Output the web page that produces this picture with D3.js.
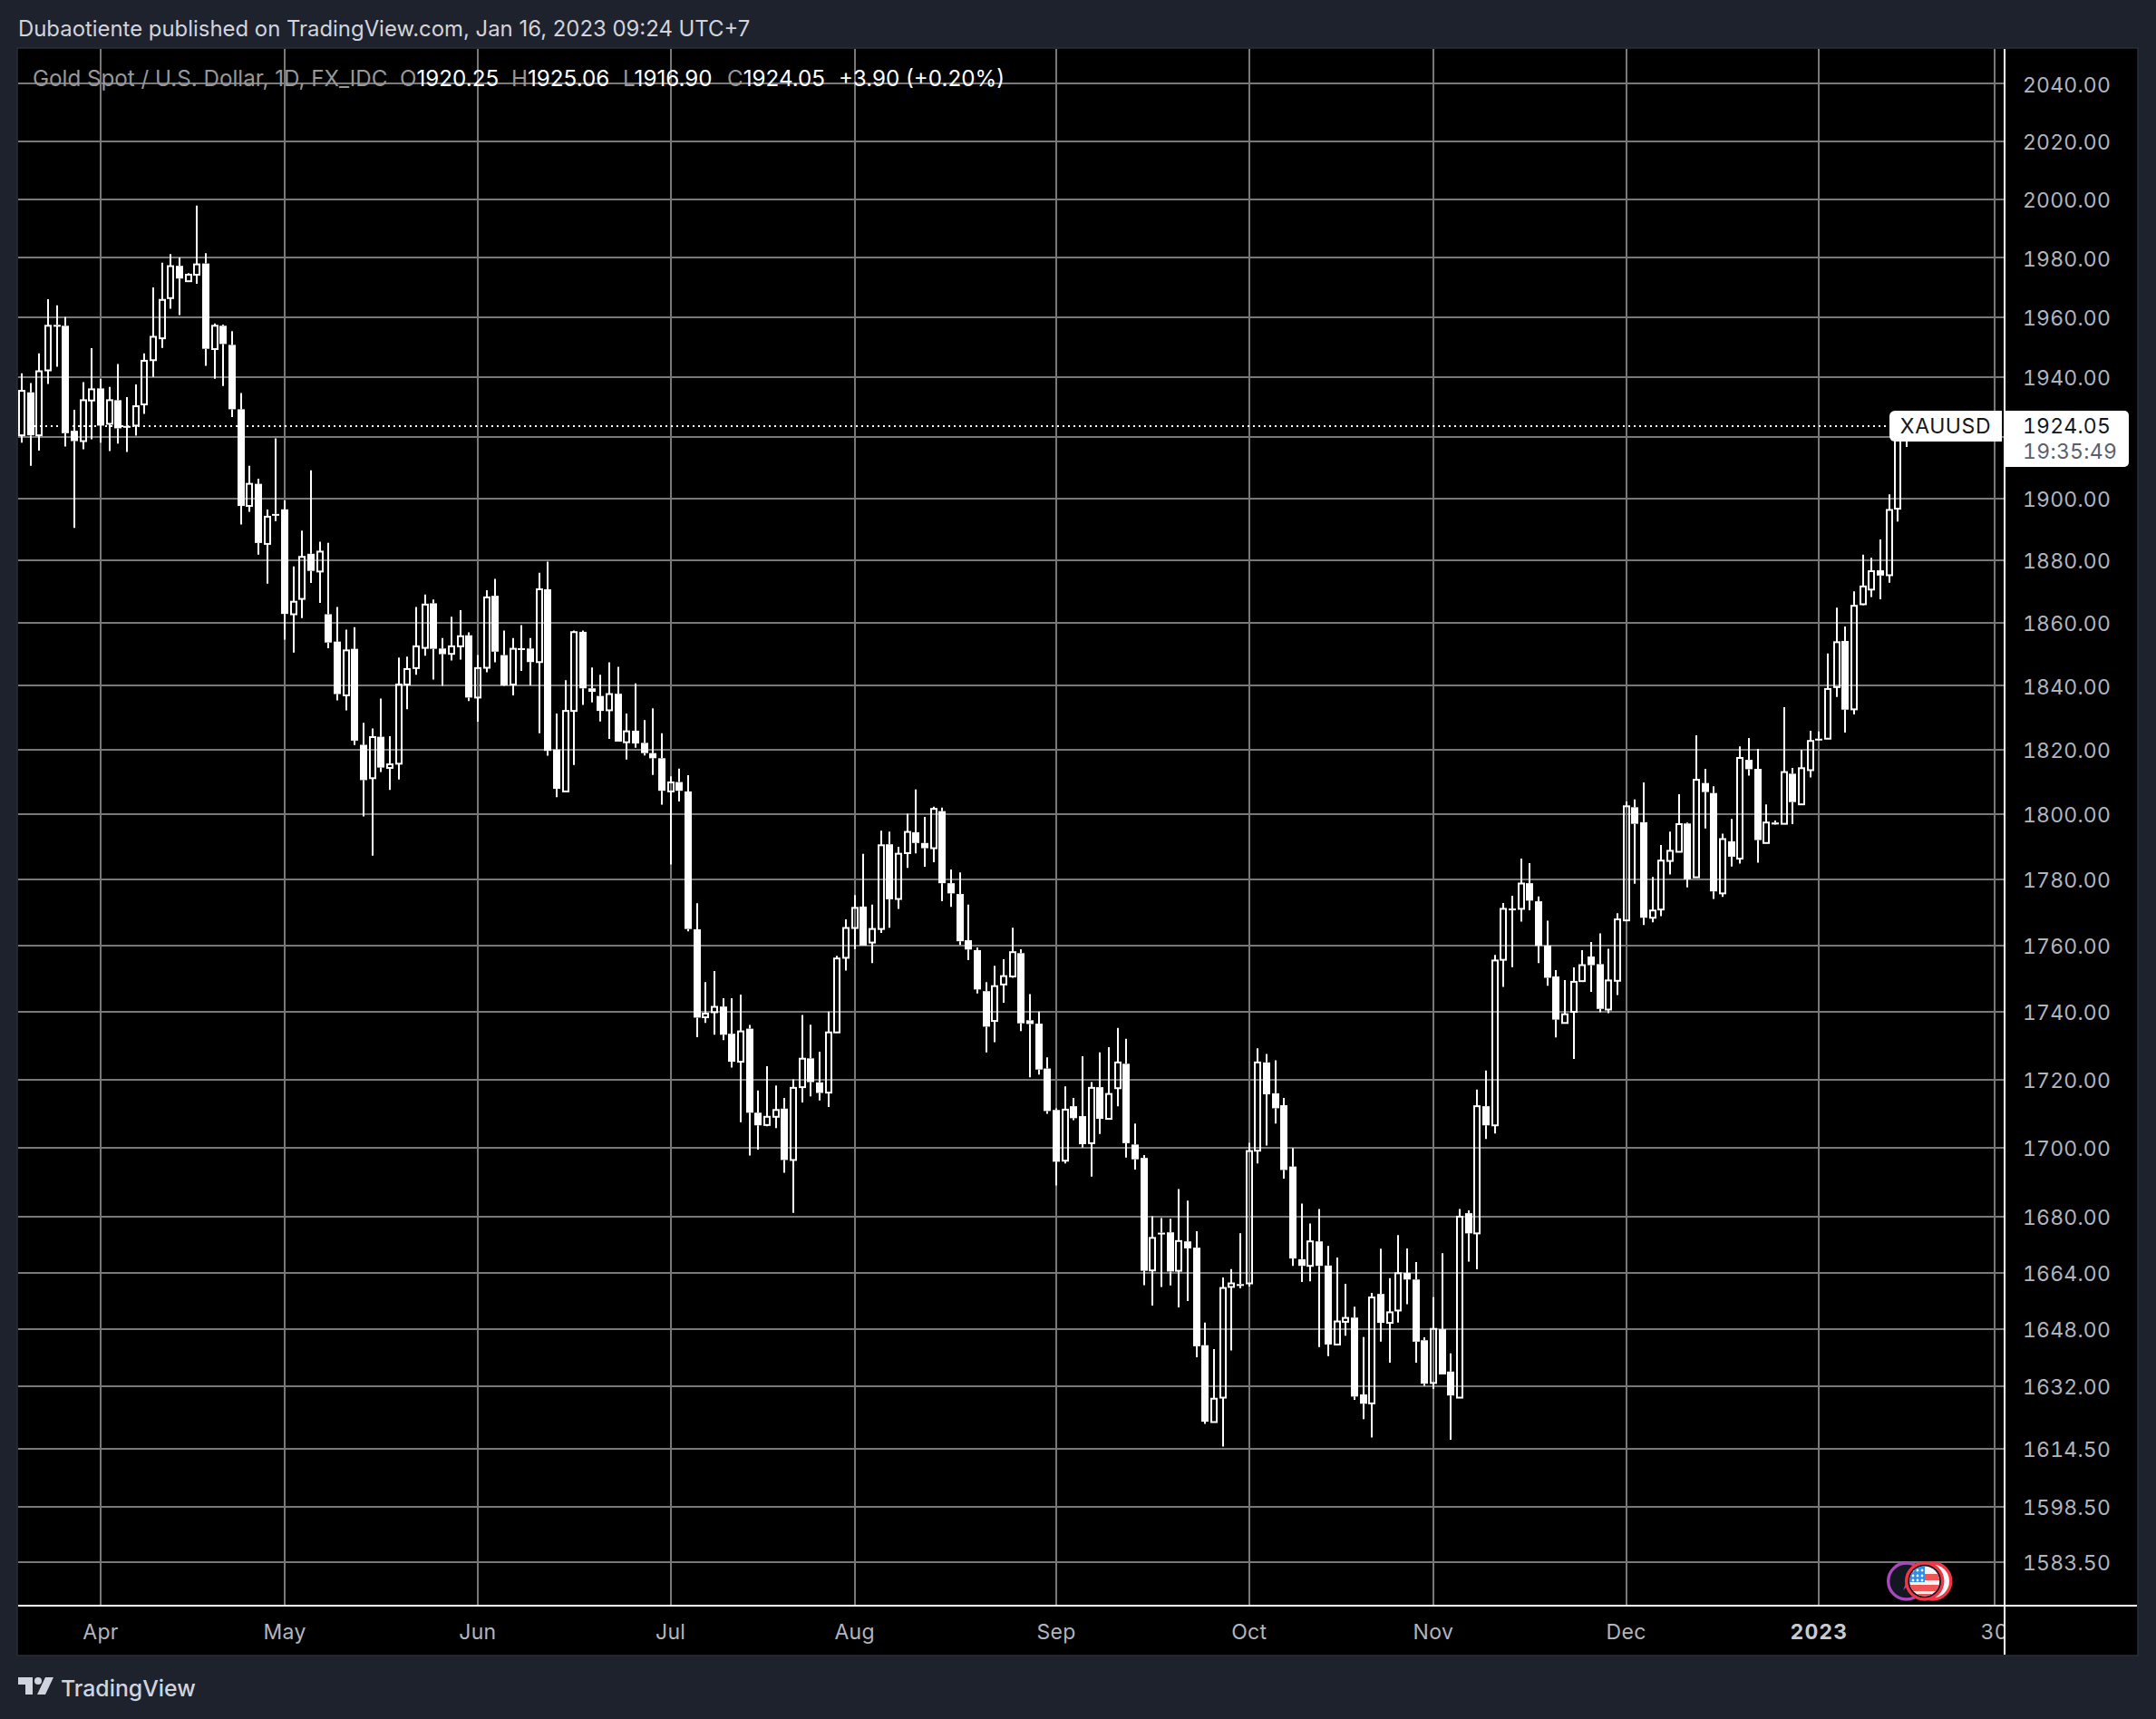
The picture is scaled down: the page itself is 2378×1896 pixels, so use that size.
<!DOCTYPE html>
<html><head><meta charset="utf-8">
<script src="https://cdn.jsdelivr.net/npm/d3@7"></script>
<style>html,body{margin:0;padding:0;background:#1e222d;overflow:hidden}text{font-family:Inter,"Noto Sans",sans-serif;font-variant-numeric:tabular-nums}text.prop{font-variant-numeric:normal}</style>
</head><body><svg id="c" width="2378" height="1896"></svg>
<script>
const opens=[1920.7,1934.9,1920.7,1942.2,1957.4,1957.1,1922.2,1918.8,1932.2,1936.2,
1924.5,1932.3,1923.8,1923.9,1930.9,1945.6,1952.9,1966.4,1977.3,1972.1,
1974.3,1978.1,1949.3,1957.1,1950.7,1929.3,1897.6,1904.8,1885.3,1895,
1896.5,1862.7,1867.6,1882.1,1876.4,1862.7,1854,1837,1851.7,1821.5,
1811.1,1824,1814.3,1815.6,1840.4,1845.6,1852,1866.2,1851.8,1850.1,
1852.5,1856,1836.3,1845.7,1868.6,1849.7,1840.4,1851.9,1851.8,1847.5,
1870.7,1820,1807,1832.1,1857.1,1839.2,1836.8,1832.3,1837.5,1822.3,
1825.9,1822.1,1818.9,1817.3,1807,1809.9,1807,1764.8,1738.4,1739.9,
1741.6,1733.5,1725.2,1735,1710.2,1706.6,1709,1711.4,1696.4,1717.7,
1726.2,1719.1,1716.1,1733.9,1756.2,1765.2,1771.7,1760.8,1764.9,1790.7,
1774,1788,1794.4,1791.1,1789.5,1800.9,1778.8,1775.5,1761.5,1758.5,
1746.2,1737.3,1748.2,1750.6,1757.6,1737.5,1736.5,1723.2,1711,1696.2,
1712.1,1709.2,1701.3,1717.7,1708.4,1717.4,1724.6,1700.9,1697,1664.6,
1675.4,1675.5,1664.5,1672.9,1671.1,1643.4,1621.9,1628.7,1659.9,1660.7,
1660.9,1699.1,1725,1715.9,1712.4,1694.5,1667.8,1665.9,1672.9,1666,
1643.6,1650,1651.2,1629.6,1627.1,1657.9,1649.7,1653.2,1663.9,1662,
1644.8,1632.8,1647.9,1636,1628.7,1681,1675.2,1712.1,1706.5,1755.6,
1771.1,1771,1778.8,1773.3,1759.9,1750.6,1736.7,1740,1749.2,1756.6,
1754.3,1740.7,1749.3,1767.5,1802.1,1797.5,1768.3,1770.8,1785.6,1788.4,
1797.1,1780.6,1809.6,1806.5,1775.7,1791.6,1786.3,1816.8,1814,1791.1,
1797.4,1797,1812.5,1803,1813.6,1823.4,1823.4,1839.6,1854.2,1832.6,
1865.9,1870.6,1876.8,1875.2,1896.7,1920.25];
const highs=[1941.2,1938,1947.9,1966,1964,1960.1,1929.1,1938.3,1949.6,1939.3,
1936.7,1944.3,1933.3,1937.5,1947.9,1970,1978.4,1981.3,1980.1,1974.8,
1997.8,1981.6,1957.9,1957.5,1955.3,1934.7,1910.7,1906.5,1896.4,1919.7,
1899.4,1878,1889.6,1909.2,1886,1885.6,1865,1857.8,1858.6,1828.4,
1826.6,1836,1824.2,1848.9,1849.2,1865,1869,1867.4,1855.1,1861.9,
1864,1856.9,1849.7,1870.4,1874,1857.5,1855.1,1859.2,1855.1,1876,
1879.6,1831.3,1841.8,1857.5,1857.5,1845.8,1843.5,1847.4,1846,1831.3,
1840.8,1829.2,1832.9,1825.1,1811.7,1814.1,1812,1772.7,1748.9,1752.2,
1744.1,1744.1,1745.2,1736.1,1716.7,1723.9,1718.2,1714.5,1720,1739.1,
1736.2,1728.2,1740.1,1756.8,1767.8,1775.2,1787.8,1772.3,1794.9,1794.6,
1789.9,1800.1,1807.6,1799.1,1802.3,1802,1783,1782.1,1772.3,1759.3,
1748.9,1753.8,1755.8,1765.3,1758.8,1745.3,1740.1,1726.5,1711.5,1717.9,
1714.5,1726.8,1719.2,1728,1729.5,1735.2,1732,1707,1697.8,1680.1,
1679.6,1679.4,1688,1684.6,1675.8,1649.8,1642.3,1662.6,1665,1675.2,
1701.4,1729.2,1727.5,1725.6,1714.5,1699.9,1683.8,1678,1682.2,1671.6,
1668.3,1660.8,1654.3,1645.7,1658.2,1670.8,1662.4,1674.7,1670.9,1667,
1645.6,1657,1669.5,1641.1,1682.2,1681.8,1717,1722.6,1757.1,1772.8,
1775,1786.3,1784.9,1774.8,1767.4,1752.5,1749.5,1753.3,1758.5,1761,
1763.6,1758.9,1769.7,1803.9,1804.5,1809.8,1780.7,1790.5,1794.6,1806.1,
1797.4,1824.5,1814,1808.6,1794,1798.5,1821,1823.6,1820.2,1803,
1798,1833.3,1814.3,1819.9,1825.9,1825.7,1850.2,1864.8,1858.8,1870,
1881.8,1880.8,1886.7,1901.4,1926,1925.06];
const lows=[1918.3,1910.7,1915.7,1937.7,1943.4,1917,1890.5,1916.1,1919.4,1918.3,
1915.5,1918,1915.2,1920.6,1927.8,1940,1949.7,1962.8,1960.7,1972.1,
1971.2,1943.7,1939.4,1937,1926.7,1891.6,1895.7,1881.8,1872.5,1892.7,
1854.6,1850.5,1861.5,1872.7,1866.3,1851.9,1835.4,1832.3,1821.4,1799.3,
1787.2,1813,1807.5,1810.7,1832.6,1843.5,1849.5,1842,1840,1848,
1848.3,1835.2,1828.7,1844.3,1847.4,1840,1837,1844.7,1840.1,1825.1,
1818.1,1805.2,1807,1815.2,1834,1834.8,1828.8,1823.3,1822.5,1816.9,
1820.6,1818.2,1812.1,1802.9,1784.5,1803.9,1764.2,1732.5,1736.7,1733.2,
1731.6,1723.5,1707.4,1697.7,1699.4,1706.2,1705.7,1692.7,1681.1,1713.2,
1715,1713.8,1711.9,1733.9,1752.4,1758.8,1759.9,1754.6,1763.7,1765.3,
1771,1783.5,1787.9,1783.8,1785.2,1773.3,1771.6,1760.1,1755.5,1745.5,
1728,1731,1742.7,1750.2,1734.3,1720.6,1721.4,1709.9,1689,1695.4,
1708,1700,1691.6,1704,1708.4,1712.1,1697.1,1693.6,1660.4,1654.6,
1659.9,1660.3,1654.1,1655.9,1640,1621.4,1621.9,1615.1,1641.9,1659.5,
1660,1695.4,1700.6,1707,1691,1665.9,1661.3,1661.5,1642.9,1640.3,
1643.5,1646.1,1628.1,1622.7,1617.6,1644.4,1638.5,1649.8,1655,1638.5,
1632,1631.1,1635.2,1617,1628.7,1667.1,1664.9,1702.5,1704.1,1747.5,
1753.4,1767.1,1770.6,1754.6,1747.8,1732.4,1736.6,1726,1749.2,1746,
1739.9,1739.6,1745,1767.5,1778.6,1766.1,1766.9,1768.8,1781.5,1788.4,
1777.5,1780.6,1795.6,1774,1774.6,1783.9,1784.8,1811.9,1785.1,1791.1,
1796.7,1797,1796.9,1803,1811.3,1822.9,1823.3,1836.5,1825.3,1831,
1865.6,1868.2,1867.5,1872.8,1892.5,1916.9];
const closes=[1935.4,1920.7,1941.9,1957.1,1957.2,1921.4,1918.8,1932.3,1935.9,1923.9,
1932.3,1923,1923.6,1930.3,1945.4,1953.4,1965.8,1977.2,1973,1974.3,
1977.8,1949.4,1957.1,1951,1929.3,1897.6,1904.8,1885.6,1894.1,1894.8,
1862.8,1866.7,1881.1,1876.6,1882.8,1853.7,1837.4,1851.2,1822.8,1810.5,
1823.9,1814.4,1815.4,1840.4,1845.3,1852.5,1865.8,1851.7,1850,1852.5,
1855.7,1836.3,1845.6,1868.1,1850.8,1840.1,1851.7,1851.7,1847.5,1870.7,
1819.6,1807.8,1832.1,1857,1839.2,1838.1,1832.1,1837.4,1822.5,1825.7,
1821.9,1818.9,1817.3,1807.2,1809.8,1807.2,1764.9,1738.3,1739.5,1741.5,
1733.2,1725.2,1734.2,1710.2,1706.5,1709,1711,1696.4,1717.5,1726.1,
1719.2,1716,1733.9,1756,1765.2,1771.3,1759.9,1764.9,1790.4,1773.9,
1787.8,1794.5,1791.1,1789.5,1801.6,1778.8,1775.7,1761.2,1758.7,1746.7,
1735.6,1747.7,1750.7,1757.9,1736.6,1736.4,1722.9,1710.7,1695.9,1711.1,
1708.6,1701,1717.5,1708.4,1715.7,1725,1701.3,1696.6,1664.5,1673.9,
1675.2,1664.3,1673,1670.9,1643.1,1622,1628.4,1659.6,1660.9,1660.5,
1699,1725,1715.6,1711.5,1693.5,1668,1665.9,1672.9,1665.9,1643.6,
1650.1,1651.1,1629,1627,1656.9,1649.7,1652.7,1663.8,1662,1644.4,
1632.6,1648,1635.2,1629.3,1680,1675.2,1712.1,1706.5,1755.4,1771,
1771,1778.7,1773.5,1759.8,1750.2,1737.7,1739.3,1749,1754,1754,
1740.9,1749.4,1767.8,1802.4,1797,1768.3,1770.5,1785.7,1788.7,1796.9,
1780,1810.6,1806.8,1776.3,1792.3,1786.9,1817.4,1813.9,1792,1797.4,
1796.8,1813,1803.7,1814.2,1822.7,1823.2,1839,1853.8,1832.5,1865.4,
1871.6,1876.5,1875.1,1896.3,1920.5,1924.05];

const priceTicks=[2040,2020,2000,1980,1960,1940,1920,1900,1880,1860,1840,1820,1800,1780,1760,1740,1720,1700,1680,1664,1648,1632,1614.5,1598.5,1583.5];
const hiddenPriceLabel=1920; // covered by the live price label in the reference
const timeTickLabels=["Apr","May","Jun","Jul","Aug","Sep","Oct","Nov","Dec","2023","30"];
const timeTickBars=[9,30,52,74,95,118,140,161,183,205,225];
const lastPrice=1924.05;
const symbolName="XAUUSD";
const countdown="19:35:49";
const headerText="Dubaotiente published on TradingView.com, Jan 16, 2023 09:24 UTC+7";
const legendTitle="Gold Spot / U.S. Dollar, 1D, FX_IDC";
const legendItems=[["O","1920.25",441],["H","1925.06",564],["L","1916.90",687],["C","1924.05",802]];
const legendChange="+3.90 (+0.20%)";

const W=2378,H=1896;
const pane={l:20,r:2211,t:54,b:1771,outerR:2357,outerB:1825};
const svg=d3.select("#c");
const y=d3.scaleLog().domain([1583.5,2040]).range([1722.7,92.3]);
const x=d3.scaleLinear().domain([0,215]).range([24,24+215*9.67]);
const GRID="#787878",AXIS="#b2b5be",LEG="#989898";

svg.append("rect").attr("width",W).attr("height",H).attr("fill","#1e222d");
svg.append("rect").attr("x",pane.l-1).attr("y",pane.t-1).attr("width",pane.outerR-pane.l+2).attr("height",pane.outerB-pane.t+2).attr("fill","#000").attr("stroke","#2a2e39").attr("stroke-width",1.5);

const defs=svg.append("defs");
defs.append("clipPath").attr("id","plot").append("rect").attr("x",pane.l).attr("y",pane.t).attr("width",pane.r-pane.l).attr("height",pane.b-pane.t);
defs.append("clipPath").attr("id","timeAxis").append("rect").attr("x",pane.l).attr("y",pane.b).attr("width",pane.r-pane.l).attr("height",pane.outerB-pane.b);
defs.append("clipPath").attr("id","flag").append("circle").attr("cx",2122.7).attr("cy",1744).attr("r",16.5);

// grid
const plot=svg.append("g").attr("clip-path","url(#plot)");
plot.append("g").selectAll("line").data(timeTickBars).join("line")
 .attr("x1",d=>Math.round(x(d))).attr("x2",d=>Math.round(x(d))).attr("y1",pane.t).attr("y2",pane.b)
 .attr("stroke",GRID).attr("stroke-width",2);
plot.append("g").selectAll("line").data(priceTicks).join("line")
 .attr("x1",pane.l).attr("x2",pane.r).attr("y1",d=>Math.round(y(d))).attr("y2",d=>Math.round(y(d)))
 .attr("stroke",GRID).attr("stroke-width",2);

// last price line
plot.append("line").attr("x1",pane.l).attr("x2",2084).attr("y1",Math.round(y(lastPrice))+1).attr("y2",Math.round(y(lastPrice))+1)
 .attr("stroke","#fff").attr("stroke-width",2).attr("stroke-dasharray","2 4");

// candles
const bars=d3.range(opens.length);
const cx=i=>Math.round(x(i));
const g=plot.append("g").selectAll("g").data(bars).join("g");
g.append("line").attr("x1",cx).attr("x2",cx).attr("y1",i=>y(highs[i])).attr("y2",i=>y(Math.max(opens[i],closes[i])))
 .attr("stroke","#fff").attr("stroke-width",2);
g.append("line").attr("x1",cx).attr("x2",cx).attr("y1",i=>y(Math.min(opens[i],closes[i]))).attr("y2",i=>y(lows[i]))
 .attr("stroke","#fff").attr("stroke-width",2);
g.append("rect")
 .attr("x",i=>closes[i]>=opens[i]?cx(i)-3:cx(i)-4)
 .attr("width",i=>closes[i]>=opens[i]?6:8)
 .attr("y",i=>y(Math.max(opens[i],closes[i])))
 .attr("height",i=>Math.max(closes[i]>=opens[i]?1:2,Math.abs(y(opens[i])-y(closes[i]))))
 .attr("fill",i=>closes[i]>=opens[i]?"none":"#fff")
 .attr("stroke",i=>closes[i]>=opens[i]?"#fff":"none")
 .attr("stroke-width",2);

// axis lines
svg.append("line").attr("x1",pane.l).attr("x2",pane.outerR).attr("y1",pane.b).attr("y2",pane.b).attr("stroke","#fff").attr("stroke-width",2);

// price axis labels
svg.append("g").selectAll("text").data(priceTicks.filter(d=>d!==hiddenPriceLabel)).join("text")
 .attr("x",2231).attr("y",d=>y(d)+1).attr("dy","0.36em")
 .attr("font-size",23).attr("letter-spacing",0.2).attr("fill",AXIS).text(d=>d.toFixed(2));

// time axis labels
svg.append("g").attr("clip-path","url(#timeAxis)").selectAll("text").data(timeTickBars).join("text")
 .attr("x",d=>x(d)).attr("y",1800).attr("dy","0.36em").attr("text-anchor","middle")
 .attr("font-size",23).attr("font-weight",(d,i)=>timeTickLabels[i]==="2023"?700:400)
 .attr("letter-spacing",(d,i)=>timeTickLabels[i]==="2023"?1:0.3)
 .attr("fill",(d,i)=>timeTickLabels[i]==="2023"?"#c8cad1":AXIS).text((d,i)=>timeTickLabels[i]);

svg.append("line").attr("x1",pane.r).attr("x2",pane.r).attr("y1",pane.t).attr("y2",pane.outerB).attr("stroke","#fff").attr("stroke-width",2);

// header / legend
svg.append("text").attr("class","prop").attr("x",20).attr("y",31.5).attr("dy","0.36em").attr("font-size",23.9).attr("fill","#d1d4dc").text(headerText);
svg.append("text").attr("class","prop").attr("x",36).attr("y",86).attr("dy","0.36em").attr("font-size",24.2).attr("fill",LEG).text(legendTitle);
const leg=svg.append("g");
legendItems.forEach(([k,v,px])=>{
  const t=leg.append("text").attr("class","prop").attr("x",px).attr("y",86).attr("dy","0.36em").attr("font-size",24.2);
  t.append("tspan").attr("fill",LEG).text(k);
  t.append("tspan").attr("fill","#fff").text(v);
});
leg.append("text").attr("class","prop").attr("x",925).attr("y",86).attr("dy","0.36em").attr("font-size",24.2).attr("fill","#fff").text(legendChange);

// last price labels
const ly=y(lastPrice);
svg.append("path").attr("d",`M2208 ${ly-16}H2090a6 6 0 0 0 -6 6V${ly+12}a6 6 0 0 0 6 6H2208Z`).attr("fill","#fff");
svg.append("text").attr("x",2146).attr("y",ly+1).attr("dy","0.36em").attr("text-anchor","middle").attr("font-size",23).attr("letter-spacing",0.6).attr("fill","#131722").text(symbolName);
svg.append("path").attr("d",`M2212 ${ly-16}H2343a5 5 0 0 1 5 5V${ly+41}a5 5 0 0 1 -5 5H2212Z`).attr("fill","#fff");
svg.append("text").attr("x",2231).attr("y",ly+1).attr("dy","0.36em").attr("font-size",23).attr("letter-spacing",0.2).attr("fill","#131722").text(lastPrice.toFixed(2));
svg.append("text").attr("x",2231).attr("y",ly+29).attr("dy","0.36em").attr("font-size",23).attr("letter-spacing",0.3).attr("fill","#5d606b").text(countdown);

// event markers
const ev=svg.append("g");
ev.append("circle").attr("cx",2102.7).attr("cy",1744).attr("r",20).attr("fill","#131722").attr("stroke","#ab47bc").attr("stroke-width",3.4);
ev.append("path").attr("d","M2101 1744l10 -8l-5 8h3l-10 10l4 -10z").attr("fill","#ab47bc");
ev.append("circle").attr("cx",2131.7).attr("cy",1744).attr("r",20).attr("fill","#f7f7f7").attr("stroke","#f23645").attr("stroke-width",3.4);
ev.append("circle").attr("cx",2122.7).attr("cy",1744).attr("r",20).attr("fill","#131722").attr("stroke","#f23645").attr("stroke-width",3.4);
const fl=ev.append("g").attr("clip-path","url(#flag)");
fl.append("rect").attr("x",2105).attr("y",1726).attr("width",36).attr("height",36).attr("fill","#f5f5f5");
[1738,1750].forEach(v=>fl.append("rect").attr("x",2105).attr("y",v-2).attr("width",36).attr("height",7).attr("fill","#f05454"));
fl.append("rect").attr("x",2105).attr("y",1758).attr("width",36).attr("height",6).attr("fill","#f05454");
fl.append("rect").attr("x",2105).attr("y",1727).attr("width",18).attr("height",18).attr("fill","#2f8fe8");
[[2110,1732],[2115,1732],[2120,1732],[2110,1738],[2115,1738],[2120,1738],[2110,1743],[2115,1743],[2120,1743]].forEach(([a,b])=>fl.append("circle").attr("cx",a).attr("cy",b).attr("r",1.4).attr("fill","#fff"));

// footer logo
const lg=svg.append("g").attr("fill","#d1d4dc");
lg.append("path").attr("d","M20 1850H36V1869H28V1858H20Z");
lg.append("circle").attr("cx",42).attr("cy",1854).attr("r",4);
lg.append("path").attr("d","M50 1850H59L50 1869H41Z");
svg.append("text").attr("class","prop").attr("x",67).attr("y",1862).attr("dy","0.36em").attr("font-size",24.8).attr("font-weight",500).attr("fill","#d1d4dc").text("TradingView");
</script></body></html>
